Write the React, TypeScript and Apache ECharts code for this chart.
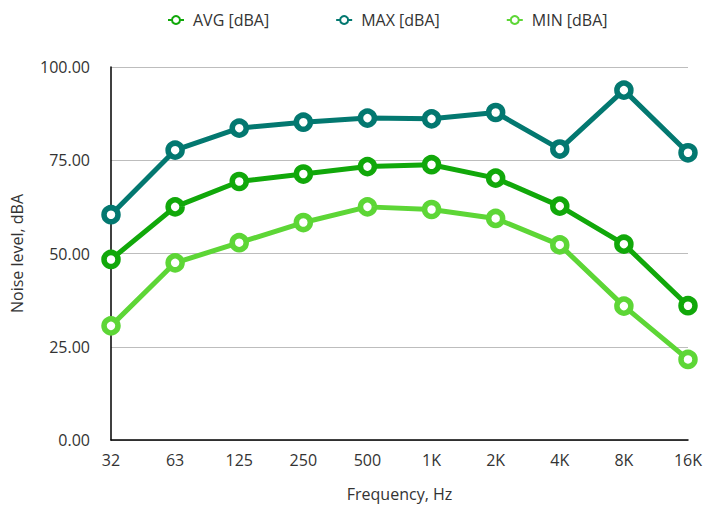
import React, { useEffect, useRef } from "react";
import * as echarts from "echarts";

const frequencies = ["32", "63", "125", "250", "500", "1K", "2K", "4K", "8K", "16K"];
const avgValues = [48.4, 62.5, 69.3, 71.3, 73.3, 73.8, 70.2, 62.7, 52.5, 36.0];
const maxValues = [60.4, 77.7, 83.6, 85.2, 86.3, 86.1, 87.8, 78.0, 93.8, 77.0];
const minValues = [30.6, 47.5, 52.9, 58.3, 62.5, 61.8, 59.4, 52.3, 35.9, 21.6];

const FONT = "'Open Sans', 'Noto Sans', sans-serif";
const TEXT = "#333333";
const FS = 16;

function lineSeries(name: string, data: number[], color: string) {
  return {
    name,
    type: "line",
    data,
    symbol: "circle",
    symbolSize: 14,
    showSymbol: true,
    lineStyle: { color, width: 5 },
    itemStyle: { color: "#ffffff", borderColor: color, borderWidth: 5.5 },
    emphasis: { disabled: true },
  };
}

export default function App() {
  const ref = useRef<HTMLDivElement>(null);

  useEffect(() => {
    if (!ref.current) return;
    const chart = echarts.init(ref.current, undefined, { renderer: "svg" });
    chart.setOption({
      animation: false,
      backgroundColor: "#ffffff",
      textStyle: { fontFamily: FONT },
      legend: {
        top: 7,
        left: 162,
        itemGap: 66,
        itemWidth: 16,
        itemHeight: 10,
        textStyle: { fontFamily: FONT, fontSize: FS, color: TEXT, padding: [0, 0, 0, 4] },
        data: ["AVG [dBA]", "MAX [dBA]", "MIN [dBA]"],
      },
      grid: {
        left: 111,
        right: 22,
        top: 67,
        bottom: 66,
        containLabel: false,
        outerBoundsMode: "none",
      },
      xAxis: {
        type: "category",
        data: frequencies,
        boundaryGap: false,
        name: "Frequency, Hz",
        nameLocation: "middle",
        nameGap: 46,
        nameTextStyle: { fontFamily: FONT, fontSize: FS, color: TEXT },
        axisLine: { lineStyle: { color: "#000000", width: 1.5 } },
        axisTick: { show: false },
        axisLabel: { fontFamily: FONT, fontSize: FS, color: TEXT, margin: 12 },
        splitLine: { show: false },
      },
      yAxis: {
        type: "value",
        min: 0,
        max: 100,
        interval: 25,
        name: "Noise level, dBA",
        nameLocation: "middle",
        nameGap: 86,
        nameTextStyle: { fontFamily: FONT, fontSize: FS, color: TEXT },
        axisLine: { show: true, lineStyle: { color: "#000000", width: 1.5 } },
        axisTick: { show: false },
        axisLabel: {
          fontFamily: FONT,
          fontSize: FS,
          color: TEXT,
          margin: 21,
          formatter: (v: number) => v.toFixed(2),
        },
        splitLine: { lineStyle: { color: "#bdbdbd", width: 1.2 } },
      },
      series: [
        lineSeries("AVG [dBA]", avgValues, "#11a80a"),
        lineSeries("MAX [dBA]", maxValues, "#037870"),
        lineSeries("MIN [dBA]", minValues, "#5dd636"),
      ],
    });
    return () => chart.dispose();
  }, []);

  return (
    <div
      ref={ref}
      style={{ position: "fixed", left: 0, top: 0, width: 710, height: 506 }}
    />
  );
}
